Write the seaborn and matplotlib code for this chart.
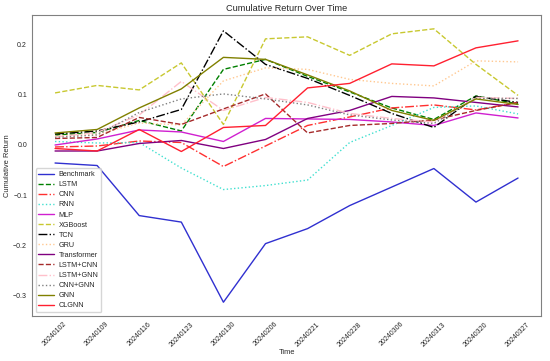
import pandas as pd
import matplotlib
matplotlib.use('Agg')
import matplotlib.pyplot as plt
import seaborn as sns

# Fechas y rendimientos acumulados
dates = ['20240102', '20240109', '20240116', '20240123', '20240130', '20240206',
         '20240221', '20240228', '20240306', '20240313', '20240320', '20240327']

benchmark = [-0.036, -0.041, -0.141, -0.154, -0.314, -0.197, -0.167, -0.121, -0.084, -0.047, -0.114, -0.066]
lstm = [0.020, 0.025, 0.049, 0.028, 0.151, 0.171, 0.137, 0.106, 0.074, 0.051, 0.098, 0.082]
cnn = [-0.004, -0.002, 0.008, 0.005, -0.043, -0.002, 0.039, 0.056, 0.074, 0.080, 0.070, 0.085]
rnn = [0.007, 0.004, 0.005, -0.046, -0.089, -0.081, -0.070, 0.005, 0.039, 0.075, 0.078, 0.062]
mlp = [0.000, 0.012, 0.030, 0.026, 0.007, 0.053, 0.052, 0.051, 0.046, 0.039, 0.064, 0.054]
xgboost = [0.104, 0.119, 0.110, 0.164, 0.041, 0.212, 0.216, 0.179, 0.222, 0.232, 0.161, 0.099]
tcn = [0.022, 0.028, 0.046, 0.071, 0.228, 0.161, 0.133, 0.099, 0.063, 0.035, 0.097, 0.085]
gru = [0.018, 0.021, 0.044, 0.040, 0.128, 0.154, 0.151, 0.131, 0.123, 0.118, 0.168, 0.166]
transformer = [-0.012, -0.012, 0.003, 0.009, -0.007, 0.011, 0.053, 0.069, 0.097, 0.094, 0.085, 0.076]
lstm_cnn = [0.013, 0.015, 0.055, 0.041, 0.072, 0.102, 0.024, 0.039, 0.043, 0.050, 0.069, 0.085]
lstm_gnn = [0.016, 0.025, 0.060, 0.127, 0.069, 0.095, 0.085, 0.063, 0.053, 0.046, 0.095, 0.093]
cnn_gnn = [0.015, 0.020, 0.065, 0.092, 0.102, 0.092, 0.080, 0.060, 0.050, 0.043, 0.093, 0.093]
gnn = [0.024, 0.031, 0.074, 0.112, 0.175, 0.171, 0.140, 0.108, 0.069, 0.049, 0.092, 0.081]
clgnn = [-0.007, -0.012, 0.031, -0.013, 0.035, 0.039, 0.114, 0.123, 0.162, 0.158, 0.194, 0.208]

series = [
    ('Benchmark', benchmark, '#3030d0', '-'),
    ('LSTM', lstm, 'green', '--'),
    ('CNN', cnn, '#ff3030', '-.'),
    ('RNN', rnn, 'turquoise', ':'),
    ('MLP', mlp, '#d020d0', '-'),
    ('XGBoost', xgboost, '#c8c830', '--'),
    ('TCN', tcn, 'black', '-.'),
    ('GRU', gru, '#ffc890', ':'),
    ('Transformer', transformer, 'purple', '-'),
    ('LSTM+CNN', lstm_cnn, 'brown', '--'),
    ('LSTM+GNN', lstm_gnn, 'pink', '-.'),
    ('CNN+GNN', cnn_gnn, 'gray', ':'),
    ('GNN', gnn, 'olive', '-'),
    ('CLGNN', clgnn, '#ff2030', '-'),
]

sns.set_style('white')
plt.rcParams['font.family'] = ['Liberation Sans', 'DejaVu Sans']

fig, ax = plt.subplots(figsize=(5.5, 3.61), dpi=100)
for name, vals, color, ls in series:
    df = pd.DataFrame({'Time': dates, 'Cumulative Return': vals})
    sns.lineplot(data=df, x='Time', y='Cumulative Return', ax=ax, label=name,
                 color=color, linestyle=ls, linewidth=1.0)

ax.set_title('Cumulative Return Over Time', fontsize=6.6, pad=3)
ax.set_xlabel('Time', fontsize=5.4, labelpad=1)
ax.set_ylabel('Cumulative Return', fontsize=5.4, labelpad=1.5)
ax.tick_params(axis='both', labelsize=5, length=2, width=0.6, pad=1.5)
plt.setp(ax.get_xticklabels(), rotation=45)
for s in ax.spines.values():
    s.set_color('#808080')
    s.set_linewidth(0.8)
ax.legend(loc='lower left', fontsize=5.2, frameon=True, handlelength=2.2,
          labelspacing=0.42, borderpad=0.4, handletextpad=0.6)

plt.subplots_adjust(left=0.058, right=0.984, top=0.958, bottom=0.125)
plt.savefig('out.png', dpi=100)
plt.close()
